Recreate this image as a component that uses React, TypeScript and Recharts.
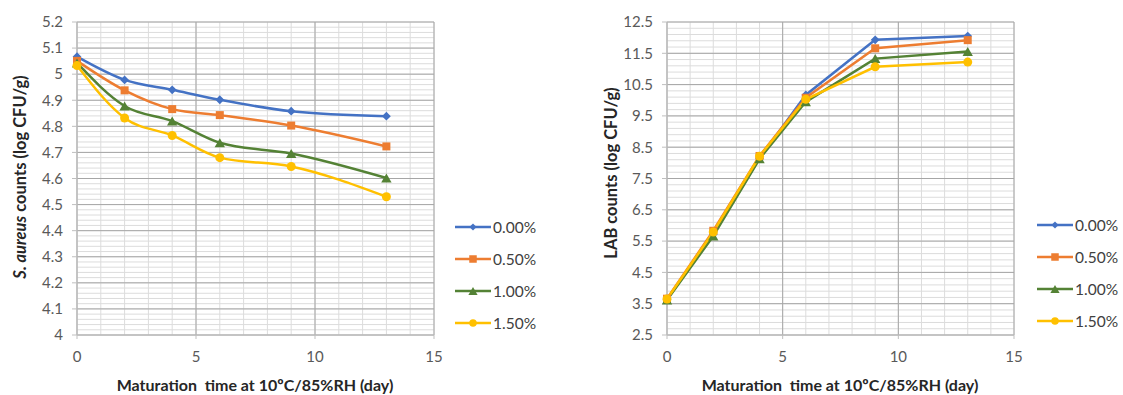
import React from 'react';
import { LineChart, Line, XAxis, YAxis, CartesianGrid, Legend } from 'recharts';

// ---- data ----
const days = [0, 2, 4, 6, 9, 13];
const seriesNames = ['0.00%', '0.50%', '1.00%', '1.50%'];
const seriesKeys = ['c000', 'c050', 'c100', 'c150'];
const seriesColors = ['#4472C4', '#ED7D31', '#548235', '#FFC000'];
const seriesShapes = ['diamond', 'square', 'triangle', 'circle'];

const aureus000 = [5.067, 4.978, 4.94, 4.902, 4.858, 4.839];
const aureus050 = [5.051, 4.938, 4.866, 4.843, 4.803, 4.723];
const aureus100 = [5.043, 4.878, 4.82, 4.737, 4.696, 4.602];
const aureus150 = [5.033, 4.832, 4.765, 4.68, 4.646, 4.53];

const lab000 = [3.64, 5.72, 8.15, 10.17, 11.93, 12.05];
const lab050 = [3.66, 5.83, 8.22, 10.08, 11.66, 11.92];
const lab100 = [3.62, 5.66, 8.13, 9.95, 11.33, 11.56];
const lab150 = [3.65, 5.79, 8.21, 10.03, 11.07, 11.22];

const xTicks = [0, 5, 10, 15];
const aureusTicks = [4, 4.1, 4.2, 4.3, 4.4, 4.5, 4.6, 4.7, 4.8, 4.9, 5, 5.1, 5.2];
const labTicks = [2.5, 3.5, 4.5, 5.5, 6.5, 7.5, 8.5, 9.5, 10.5, 11.5, 12.5];

const xTitle = 'Maturation  time at 10ºC/85%RH (day)';

// ---- helpers ----
const buildRows = (cols: number[][]) =>
  days.map((d, i) => {
    const row: any = { day: d };
    seriesKeys.forEach((k, j) => (row[k] = cols[j][i]));
    return row;
  });

const aureusRows = buildRows([aureus000, aureus050, aureus100, aureus150]);
const labRows = buildRows([lab000, lab050, lab100, lab150]);

const gridSteps = (from: number, to: number, step: number) => {
  const out: number[] = [];
  const n = Math.round((to - from) / step);
  for (let i = 0; i <= n; i++) out.push(Math.round((from + i * step) * 1000) / 1000);
  return out;
};

const FONT = 'Lato, "Open Sans", sans-serif';

function Marker({ shape, cx, cy, color, size }: any) {
  if (cx == null || cy == null) return null;
  const h = size / 2;
  if (shape === 'diamond') {
    const r = h * 1.1;
    return <polygon points={`${cx},${cy - r} ${cx + r},${cy} ${cx},${cy + r} ${cx - r},${cy}`} fill={color} />;
  }
  if (shape === 'square') return <rect x={cx - h} y={cy - h} width={size} height={size} fill={color} />;
  if (shape === 'triangle') {
    const w = h * 1.15;
    return <polygon points={`${cx},${cy - h} ${cx + w},${cy + h} ${cx - w},${cy + h}`} fill={color} />;
  }
  return <circle cx={cx} cy={cy} r={h} fill={color} />;
}

const markerSizes = [8, 8, 9, 9];
const legendSizes = [6.5, 7.5, 8, 7.5];

const renderLegend = () => (
  <div style={{ fontFamily: FONT, fontSize: 15.5, color: '#404040' }}>
    {seriesNames.map((n, i) => (
      <div key={n} style={{ height: 32, display: 'flex', alignItems: 'center' }}>
        <svg width={38} height={14} style={{ display: 'block' }}>
          <line x1={0} x2={36} y1={7} y2={7} stroke={seriesColors[i]} strokeWidth={2.5} />
          <Marker shape={seriesShapes[i]} cx={18} cy={7} color={seriesColors[i]} size={legendSizes[i]} />
        </svg>
        <span style={{ lineHeight: '16px' }}>{n}</span>
      </div>
    ))}
  </div>
);

const tickStyle = { fill: '#595959', fontSize: 15, fontFamily: FONT };
const axisColor = '#bfbfbf';

function Panel({ rows, yTicks, yDomain, minorY, yWidth, legendLeft, legendTop, curve }: any) {
  return (
    <LineChart
      width={470}
      height={395}
      data={rows}
      margin={{ top: 22, right: 36, bottom: 30, left: 0 }}
    >
      <CartesianGrid
        stroke="#dcdcdc"
        strokeWidth={1}
        horizontalValues={minorY}
        verticalValues={gridSteps(0, 15, 1)}
      />
      <CartesianGrid
        stroke="#a6a6a6"
        strokeWidth={1}
        horizontalValues={yTicks}
        verticalValues={xTicks}
        fill="none"
      />
      <XAxis
        type="number"
        dataKey="day"
        domain={[0, 15]}
        ticks={xTicks}
        interval={0}
        height={30}
        tick={tickStyle}
        tickSize={4}
        tickMargin={12}
        axisLine={{ stroke: axisColor }}
        tickLine={{ stroke: axisColor }}
      />
      <YAxis
        type="number"
        domain={yDomain}
        ticks={yTicks}
        interval={0}
        width={yWidth}
        tick={tickStyle}
        tickSize={5}
        tickMargin={9}
        axisLine={{ stroke: axisColor }}
        tickLine={{ stroke: axisColor }}
        allowDataOverflow
      />
      <Legend
        layout="horizontal"
        verticalAlign="middle"
        align="center"
        content={renderLegend}
        wrapperStyle={{ position: 'absolute', left: legendLeft, top: legendTop, width: 100 }}
      />
      {seriesKeys.map((k, i) => (
        <Line
          key={k}
          dataKey={k}
          name={seriesNames[i]}
          type={curve}
          stroke={seriesColors[i]}
          strokeWidth={2.5}
          isAnimationActive={false}
          dot={(p: any) => (
            <Marker
              key={`${k}-${p.index}`}
              shape={seriesShapes[i]}
              cx={p.cx}
              cy={p.cy}
              color={seriesColors[i]}
              size={markerSizes[i]}
            />
          )}
          activeDot={false}
        />
      ))}
    </LineChart>
  );
}

export default function App() {
  return (
    <div style={{ position: 'absolute', left: 0, top: 0, width: 1123, height: 395, background: '#fff', overflow: 'hidden' }}>
      <div style={{ position: 'absolute', left: 0, top: 0 }}>
        <Panel
          rows={aureusRows}
          yTicks={aureusTicks}
          yDomain={[4, 5.2]}
          minorY={gridSteps(4, 5.2, 0.02)}
          yWidth={77}
          legendLeft={455}
          legendTop={211}
          curve="monotone"
        />
      </div>
      <div style={{ position: 'absolute', left: 580, top: 0 }}>
        <Panel
          rows={labRows}
          yTicks={labTicks}
          yDomain={[2.5, 12.5]}
          minorY={gridSteps(2.5, 12.5, 0.2)}
          yWidth={87}
          legendLeft={457}
          legendTop={209}
          curve="linear"
        />
      </div>
      <svg
        width={1123}
        height={395}
        style={{ position: 'absolute', left: 0, top: 0, pointerEvents: 'none' }}
        fontFamily={FONT}
        fontWeight="bold"
        fill="#262626"
      >
        <text x={255} y={384} fontSize={16} textAnchor="middle" dominantBaseline="central" style={{ whiteSpace: 'pre' }}>
          {xTitle}
        </text>
        <text x={840} y={384} fontSize={16} textAnchor="middle" dominantBaseline="central" style={{ whiteSpace: 'pre' }}>
          {xTitle}
        </text>
        <text transform="translate(20,177) rotate(-90)" fontSize={16.5} textAnchor="middle" dominantBaseline="central">
          <tspan fontStyle="italic">S. aureus</tspan> counts (log CFU/g)
        </text>
        <text transform="translate(611,173) rotate(-90)" fontSize={16.5} textAnchor="middle" dominantBaseline="central">
          LAB counts (log CFU/g)
        </text>
      </svg>
    </div>
  );
}
